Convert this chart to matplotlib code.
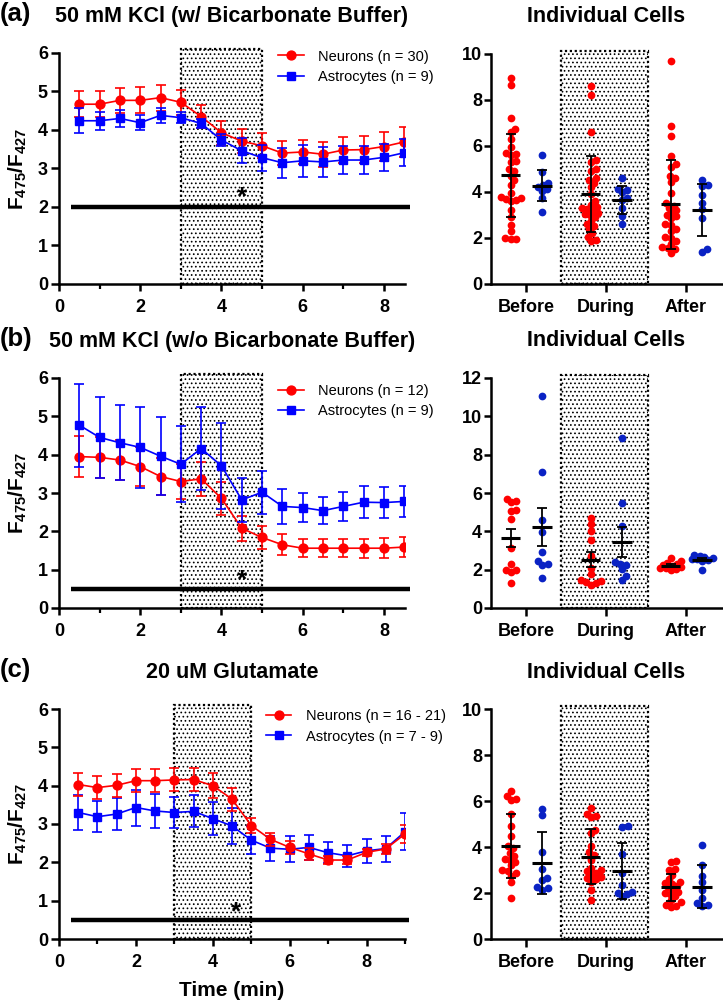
import numpy as np
import matplotlib
matplotlib.use("Agg")
import matplotlib.pyplot as plt
from matplotlib.patches import Rectangle

plt.rcParams['font.family'] = ['Liberation Sans', 'DejaVu Sans']
plt.rcParams['font.weight'] = 'bold'
plt.rcParams['mathtext.fontset'] = 'custom'
plt.rcParams['mathtext.rm'] = 'Liberation Sans'
plt.rcParams['mathtext.bf'] = 'Liberation Sans:bold'
plt.rcParams['hatch.linewidth'] = 0.7

# ---------------- time-course data ----------------
time_ab = [0.5, 1.0, 1.5, 2.0, 2.5, 3.0, 3.5, 4.0, 4.5, 5.0, 5.5, 6.0, 6.5, 7.0, 7.5, 8.0, 8.5]
time_c = [0.5, 1.0, 1.5, 2.0, 2.5, 3.0, 3.5, 4.0, 4.5, 5.0, 5.5, 6.0, 6.5, 7.0, 7.5, 8.0, 8.5, 9.0]

neur_a = [4.67, 4.67, 4.77, 4.77, 4.84, 4.72, 4.35, 3.93, 3.71, 3.59, 3.40, 3.43, 3.37, 3.48, 3.49, 3.57, 3.69]
neur_a_err = [0.34, 0.34, 0.32, 0.34, 0.34, 0.32, 0.30, 0.31, 0.32, 0.32, 0.31, 0.32, 0.33, 0.35, 0.36, 0.38, 0.38]
astro_a = [4.24, 4.24, 4.30, 4.19, 4.38, 4.32, 4.17, 3.74, 3.46, 3.28, 3.15, 3.20, 3.17, 3.22, 3.22, 3.29, 3.41]
astro_a_err = [0.33, 0.24, 0.21, 0.19, 0.19, 0.15, 0.12, 0.15, 0.33, 0.34, 0.39, 0.41, 0.38, 0.37, 0.36, 0.35, 0.35]

neur_b = [3.95, 3.93, 3.86, 3.69, 3.43, 3.30, 3.37, 2.86, 2.08, 1.84, 1.65, 1.56, 1.56, 1.56, 1.56, 1.56, 1.59]
neur_b_err = [0.53, 0.54, 0.53, 0.51, 0.48, 0.46, 0.45, 0.43, 0.33, 0.30, 0.27, 0.23, 0.23, 0.24, 0.25, 0.26, 0.26]
astro_b = [4.77, 4.45, 4.31, 4.19, 3.96, 3.75, 4.16, 3.71, 2.82, 3.02, 2.65, 2.62, 2.54, 2.65, 2.76, 2.75, 2.78]
astro_b_err = [1.08, 1.06, 0.98, 1.06, 1.01, 0.99, 1.09, 1.12, 0.58, 0.56, 0.45, 0.37, 0.36, 0.37, 0.41, 0.40, 0.41]

neur_c = [4.03, 3.95, 4.01, 4.13, 4.13, 4.15, 4.16, 4.00, 3.65, 2.96, 2.60, 2.39, 2.22, 2.06, 2.06, 2.26, 2.35, 2.74]
neur_c_err = [0.29, 0.29, 0.30, 0.30, 0.30, 0.30, 0.30, 0.32, 0.30, 0.20, 0.17, 0.16, 0.15, 0.10, 0.10, 0.10, 0.13, 0.23]
astro_c = [3.30, 3.19, 3.26, 3.43, 3.34, 3.30, 3.33, 3.14, 2.95, 2.58, 2.37, 2.34, 2.39, 2.25, 2.17, 2.30, 2.36, 2.80]
astro_c_err = [0.46, 0.41, 0.42, 0.47, 0.45, 0.41, 0.42, 0.43, 0.47, 0.37, 0.33, 0.34, 0.32, 0.28, 0.28, 0.32, 0.34, 0.48]

bar_level = [2.0, 0.5, 0.5]
star_level = [2.47, 0.93, 0.91]
star_time = [4.5, 4.5, 4.6]

titles = ["50 mM KCl (w/ Bicarbonate Buffer)", "50 mM KCl (w/o Bicarbonate Buffer)", "20 uM Glutamate"]
panel_tags = ["(a)", "(b)", "(c)"]
neur_labels = ["Neurons (n = 30)", "Neurons (n = 12)", "Neurons (n = 16 - 21)"]
astro_labels = ["Astrocytes (n = 9)", "Astrocytes (n = 9)", "Astrocytes (n = 7 - 9)"]

# ---------------- individual cells ----------------
categories = ["Before", "During", "After"]

a_neur_before = [8.95, 8.65, 7.2, 6.75, 6.6, 6.3, 5.95, 5.7, 5.65, 5.6, 5.35, 5.3, 5.0, 4.9, 4.7, 4.5, 4.3, 3.95, 3.8, 3.75, 3.7, 3.65, 3.6, 3.2, 2.9, 2.55, 2.3, 2.0, 1.95, 1.95]
a_neur_during = [8.6, 8.2, 6.6, 5.4, 5.3, 5.0, 4.9, 4.6, 4.5, 4.4, 4.2, 3.9, 3.6, 3.45, 3.35, 3.3, 3.25, 3.2, 3.1, 3.05, 3.0, 2.9, 2.75, 2.6, 2.5, 2.4, 2.2, 2.05, 1.9, 1.85]
a_neur_after = [9.7, 6.85, 6.45, 5.55, 5.2, 5.1, 4.7, 4.6, 4.45, 3.95, 3.5, 3.4, 3.3, 3.2, 3.1, 3.0, 2.95, 2.85, 2.6, 2.55, 2.4, 2.3, 2.05, 2.0, 1.85, 1.75, 1.6, 1.55, 1.5, 1.35]
a_astro_before = [5.6, 4.85, 4.4, 4.3, 4.2, 4.15, 4.05, 3.75, 3.15]
a_astro_during = [4.6, 4.15, 4.1, 4.0, 3.75, 3.65, 3.3, 2.95, 2.6]
a_astro_after = [4.5, 4.3, 4.25, 3.85, 3.5, 3.25, 2.85, 1.5, 1.4]
a_neur_mean = [4.72, 3.90, 3.46]
a_neur_spread = [1.81, 1.66, 1.92]
a_astro_mean = [4.28, 3.66, 3.22]
a_astro_spread = [0.66, 0.60, 1.13]

b_neur_before = [5.68, 5.57, 5.52, 5.1, 5.05, 4.62, 3.12, 2.3, 2.0, 1.97, 1.88, 1.32]
b_neur_during = [4.7, 4.4, 4.0, 3.55, 2.7, 2.1, 1.8, 1.45, 1.4, 1.35, 1.3, 1.2]
b_neur_after = [2.6, 2.45, 2.35, 2.3, 2.25, 2.2, 2.2, 2.15, 2.1, 2.1, 2.05, 2.0]
b_astro_before = [11.05, 7.1, 4.6, 3.95, 2.9, 2.45, 2.3, 2.25, 1.55]
b_astro_during = [8.85, 5.5, 4.3, 2.4, 2.3, 2.25, 2.05, 1.65, 1.45]
b_astro_after = [2.75, 2.7, 2.65, 2.6, 2.55, 2.55, 2.5, 2.45, 2.0]
b_neur_mean = [3.65, 2.52, 2.21]
b_neur_spread = [0.48, 0.38, 0.06]
b_astro_mean = [4.23, 3.43, 2.52]
b_astro_spread = [1.00, 0.78, 0.08]

c_neur_before = [6.45, 6.2, 6.1, 6.05, 5.45, 4.9, 4.5, 4.05, 3.95, 3.75, 3.6, 3.5, 3.45, 3.35, 3.2, 3.0, 2.95, 2.85, 2.75, 2.5, 1.8]
c_neur_during = [5.7, 5.45, 5.35, 5.3, 4.75, 4.6, 4.05, 3.8, 3.65, 3.45, 3.1, 3.0, 2.95, 2.85, 2.8, 2.7, 2.65, 2.6, 2.5, 2.15, 1.7]
c_neur_after = [3.4, 3.35, 3.05, 3.0, 2.8, 2.6, 2.5, 2.45, 2.4, 2.3, 2.25, 2.15, 2.05, 2.0, 1.95, 1.85, 1.7, 1.6, 1.5, 1.45, 1.4]
c_astro_before = [5.65, 5.4, 3.8, 3.05, 2.65, 2.55, 2.25, 2.2, 2.15]
c_astro_during = [4.9, 4.85, 3.7, 2.85, 2.35, 2.05, 2.0, 1.95, 1.85]
c_astro_after = [4.1, 3.2, 2.75, 2.5, 2.15, 1.8, 1.55, 1.5, 1.45]
c_neur_mean = [4.05, 3.58, 2.24]
c_neur_spread = [1.40, 1.20, 0.60]
c_astro_mean = [3.32, 2.96, 2.28]
c_astro_spread = [1.35, 1.21, 0.92]

right_ymax = [10, 12, 10]
right_yticks = [[0, 2, 4, 6, 8, 10], [0, 2, 4, 6, 8, 10, 12], [0, 2, 4, 6, 8, 10]]

# ---------------- styling ----------------
RED = '#ff0000'
BLUE = '#0000ff'
DBLUE = '#0a22c4'
W, H = 723, 1001

fig = plt.figure(figsize=(W / 100, H / 100), dpi=100)


def rect(l, t, r, b):
    return [l / W, 1 - b / H, (r - l) / W, (b - t) / H]


def style_axes(ax):
    for s in ['top', 'right']:
        ax.spines[s].set_visible(False)
    for s in ['left', 'bottom']:
        ax.spines[s].set_linewidth(1.8)
    ax.tick_params(axis='both', which='major', width=1.8, labelsize=13)


def swarm(ax, vals, center, diam_px=5.2, max_off=10.5):
    """Simple beeswarm layout: horizontal offsets so that dots do not pile up."""
    tr = ax.transData
    c_px = tr.transform((center, 0))[0]
    x_unit = tr.transform((center + 1, 0))[0] - c_px
    placed = []
    xs = np.zeros(len(vals))
    order = np.argsort(vals)
    cands = [0.0]
    k = 1
    while k * 0.7 <= max_off:
        cands += [k * 0.7, -k * 0.7]
        k += 1
    for i in order:
        y_px = tr.transform((center, vals[i]))[1]
        best, best_d = None, -1
        for off in cands:
            d = min([np.hypot(off - px, y_px - py) for px, py in placed] or [1e9])
            if d >= diam_px:
                best = off
                break
            if d > best_d:
                best_d, best_alt = d, off
        if best is None:
            best = best_alt
        placed.append((best, y_px))
        xs[i] = center + best / x_unit
    return xs


left_rects = [rect(59, 53, 405, 284), rect(59, 378, 405, 608), rect(59, 709, 405, 939)]
right_rects = [rect(491, 54, 722, 284), rect(491, 378, 722, 608), rect(491, 709, 722, 939)]
title_y = [16.5, 341, 672]

neur_series = [(time_ab, neur_a, neur_a_err), (time_ab, neur_b, neur_b_err), (time_c, neur_c, neur_c_err)]
astro_series = [(time_ab, astro_a, astro_a_err), (time_ab, astro_b, astro_b_err), (time_c, astro_c, astro_c_err)]
xmax = [8.52, 8.52, 9.0]
bar_end = [8.65, 8.65, 9.1]
legend_anchor = [(0.633, 1.015), (0.633, 0.975), (0.598, 0.998)]

right_sets = [
    ([a_neur_before, a_neur_during, a_neur_after], [a_astro_before, a_astro_during, a_astro_after],
     a_neur_mean, a_neur_spread, a_astro_mean, a_astro_spread),
    ([b_neur_before, b_neur_during, b_neur_after], [b_astro_before, b_astro_during, b_astro_after],
     b_neur_mean, b_neur_spread, b_astro_mean, b_astro_spread),
    ([c_neur_before, c_neur_during, c_neur_after], [c_astro_before, c_astro_during, c_astro_after],
     c_neur_mean, c_neur_spread, c_astro_mean, c_astro_spread),
]

for p in range(3):
    # ---------- left: time course ----------
    ax = fig.add_axes(left_rects[p])
    style_axes(ax)
    ax.set_xlim(0, xmax[p])
    ax.set_ylim(0, 6)
    ax.set_yticks(range(0, 7))
    ax.set_xticks([0, 2, 4, 6, 8])
    ax.set_xticks([1, 3, 5, 7] + ([9] if p == 2 else []), minor=True)
    ax.tick_params(axis='y', which='major', length=6, pad=2)
    ax.tick_params(axis='x', which='major', length=5, pad=6)
    ax.tick_params(axis='x', which='minor', length=3.5, width=1.6)

    ax.add_patch(Rectangle((3, 0), 2, 6.1, facecolor='none', edgecolor='black', hatch='....',
                           linestyle=(0, (1, 1.2)), linewidth=1.6, zorder=0.5, clip_on=False))
    ax.plot([0.3, bar_end[p]], [bar_level[p], bar_level[p]], color='black', lw=3.2,
            solid_capstyle='butt', clip_on=False, zorder=2)
    ax.annotate('*', (star_time[p], star_level[p]), xytext=(0, -15), textcoords='offset pixels',
                ha='center', va='baseline', fontsize=19, zorder=5)

    tn, yn, en = neur_series[p]
    ta, ya, ea = astro_series[p]
    series = [(ta, ya, ea, BLUE, 's', 5.8, astro_labels[p]), (tn, yn, en, RED, 'o', 6.4, neur_labels[p])]
    if p < 2:
        series = series[::-1]
    handles = {}
    for z, (t, y, e, col, mk, ms, lab) in enumerate(series):
        ax.errorbar(t, y, yerr=e, fmt='none', ecolor=col, elinewidth=1.2, capsize=3.6,
                    capthick=1.2, zorder=3 + z)
        ln, = ax.plot(t, y, color=col, marker=mk, markersize=ms, lw=1.2, zorder=3 + z, label=lab)
        handles[lab] = ln
    leg = ax.legend([handles[neur_labels[p]], handles[astro_labels[p]]],
                    [neur_labels[p], astro_labels[p]], loc='upper left',
                    bbox_to_anchor=legend_anchor[p], frameon=False, borderaxespad=0, borderpad=0,
                    handlelength=1.75, handletextpad=1.0, labelspacing=0.42,
                    prop={'weight': 'normal', 'size': 10.5})
    leg.set_zorder(10)

    ax.set_ylabel(r'$\mathbf{F_{475}/F_{427}}$', fontsize=15)
    ax.yaxis.set_label_coords(-0.088, 0.5)

    fig.text(232 / W, 1 - title_y[p] / H, titles[p], ha='center', va='center', fontsize=15.5)
    fig.text(0.0, 1 - (title_y[p] - 2) / H, panel_tags[p], ha='left', va='center', fontsize=18.5)

    # ---------- right: individual cells ----------
    ar = fig.add_axes(right_rects[p])
    style_axes(ar)
    ar.set_xlim(-0.4375, 2.45)
    ar.set_ylim(0, right_ymax[p])
    ar.set_yticks(right_yticks[p])
    ar.set_xticks(range(3))
    ar.set_xticklabels(categories)
    ar.tick_params(axis='y', which='major', length=5, pad=1.5)
    ar.tick_params(axis='x', which='major', length=6, pad=5)
    ar.add_patch(Rectangle((0.4375, 0), 1.0875, right_ymax[p] * 1.015, facecolor='none',
                           edgecolor='black', hatch='....', linestyle=(0, (1, 1.2)), linewidth=1.6,
                           zorder=0.5, clip_on=False))
    nsets, asets, nm, ns, am, asd = right_sets[p]
    for k in range(3):
        for vals, col, off, mean, spread in [(nsets[k], RED, -0.19, nm[k], ns[k]),
                                             (asets[k], DBLUE, 0.20, am[k], asd[k])]:
            cx = k + off
            xs = swarm(ar, vals, cx)
            ar.scatter(xs, vals, s=31, color=col, linewidths=0, zorder=3, clip_on=False)
            ar.plot([cx - 0.12, cx + 0.12], [mean, mean], color='black', lw=2.2,
                    solid_capstyle='butt', zorder=5)
            ar.errorbar([cx], [mean], yerr=[spread], fmt='none', ecolor='black', elinewidth=1.3,
                        capsize=3.8, capthick=1.3, zorder=5)
    fig.text(606 / W, 1 - title_y[p] / H, "Individual Cells", ha='center', va='center', fontsize=15.5)

fig.text(232 / W, 1 - 990 / H, "Time (min)", ha='center', va='center', fontsize=15)

fig.savefig("out.png", dpi=100)
